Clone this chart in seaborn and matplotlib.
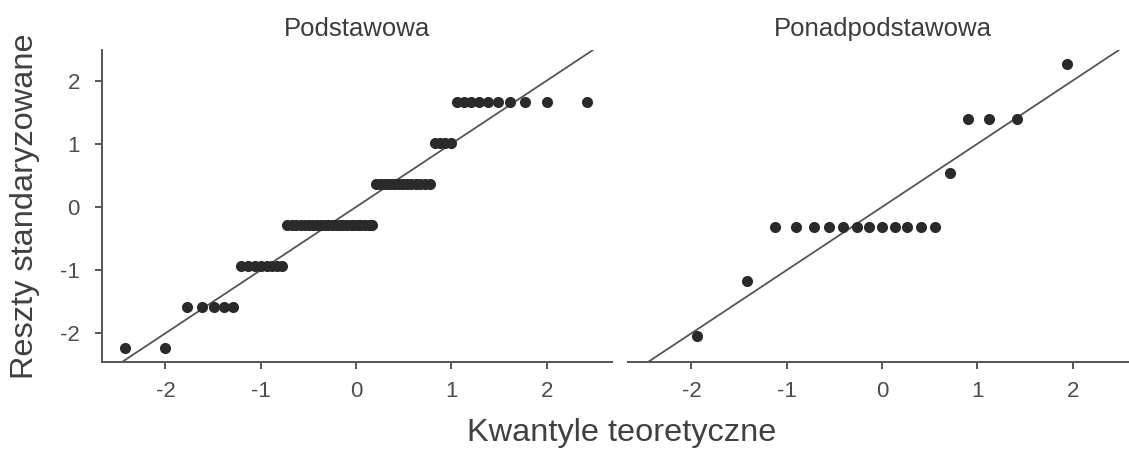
import numpy as np
import pandas as pd
import matplotlib
matplotlib.use("Agg")
import matplotlib.pyplot as plt
import seaborn as sns
from statistics import NormalDist

# ---- data (standardized residual levels and how many points sit on each) ----
groups = ["Podstawowa", "Ponadpodstawowa"]
left_levels = [-2.23, -1.58, -0.93, -0.28, 0.37, 1.02, 1.67]
left_counts = [2, 5, 8, 23, 14, 4, 10]
right_levels = [-2.04, -1.18, -0.32, 0.54, 1.40, 2.26]
right_counts = [1, 1, 12, 1, 3, 1]
x_ticks = [-2, -1, 0, 1, 2]
y_ticks = [-2, -1, 0, 1, 2]

def qq_frame(levels, counts, name):
    resid = np.sort(np.repeat(levels, counts))
    n = len(resid)
    theo = [NormalDist().inv_cdf((i - 0.5) / n) for i in range(1, n + 1)]
    return pd.DataFrame({"teor": theo, "resid": resid, "grupa": name})

df = pd.concat([qq_frame(left_levels, left_counts, groups[0]),
                qq_frame(right_levels, right_counts, groups[1])])

sns.set_theme(style="white")
plt.rcParams["font.family"] = ["Liberation Sans", "DejaVu Sans"]

W, H = 1129, 457
fig = plt.figure(figsize=(W / 100, H / 100), dpi=100)
axw = 510 / W
axh = (362 - 50) / H
axb = 1 - 362 / H
axes = [fig.add_axes([102 / W, axb, axw, axh]),
        fig.add_axes([628 / W, axb, axw, axh])]

spine_c = "#555555"
tick_c = "#4d4d4d"
for i, (ax, g) in enumerate(zip(axes, groups)):
    sub = df[df["grupa"] == g]
    sns.scatterplot(data=sub, x="teor", y="resid", ax=ax, color="#2a2a2a",
                    s=64, linewidth=0, zorder=3)
    ax.axline((0, 0), slope=1, color="#555555", lw=1.3, zorder=2)
    ax.set_xlim(-2.665, 2.686)
    ax.set_ylim(-2.455, 2.486)
    ax.set_xticks(x_ticks)
    ax.set_xticklabels([str(t) for t in x_ticks])
    ax.set_xlabel("")
    ax.set_ylabel("")
    ax.set_title(g, fontsize=18.5, color="#3c3c3c", pad=10)
    for s in ["top", "right"]:
        ax.spines[s].set_visible(False)
    ax.spines["bottom"].set_color(spine_c)
    ax.spines["bottom"].set_linewidth(1.4)
    ax.tick_params(axis="x", bottom=True, length=5, width=1.4, color=spine_c,
                   labelsize=16, labelcolor=tick_c, pad=9)
    if i == 0:
        ax.spines["left"].set_color(spine_c)
        ax.spines["left"].set_linewidth(1.4)
        ax.set_yticks(y_ticks)
        ax.set_yticklabels([str(t) for t in y_ticks])
        ax.tick_params(axis="y", left=True, length=5, width=1.4, color=spine_c,
                       labelsize=16, labelcolor=tick_c, pad=11)
    else:
        ax.spines["left"].set_visible(False)
        ax.set_yticks(y_ticks)
        ax.tick_params(axis="y", left=False, labelleft=False)
    ax.grid(False)

fig.text(25 / W, 1 - 206 / H, "Reszty standaryzowane", rotation=90,
         ha="center", va="center", fontsize=23.4, color="#404040")
fig.text(622 / W, 1 - 441 / H, "Kwantyle teoretyczne", ha="center",
         va="baseline", fontsize=23.4, color="#404040")

fig.savefig("out.png", dpi=100, facecolor="white")
